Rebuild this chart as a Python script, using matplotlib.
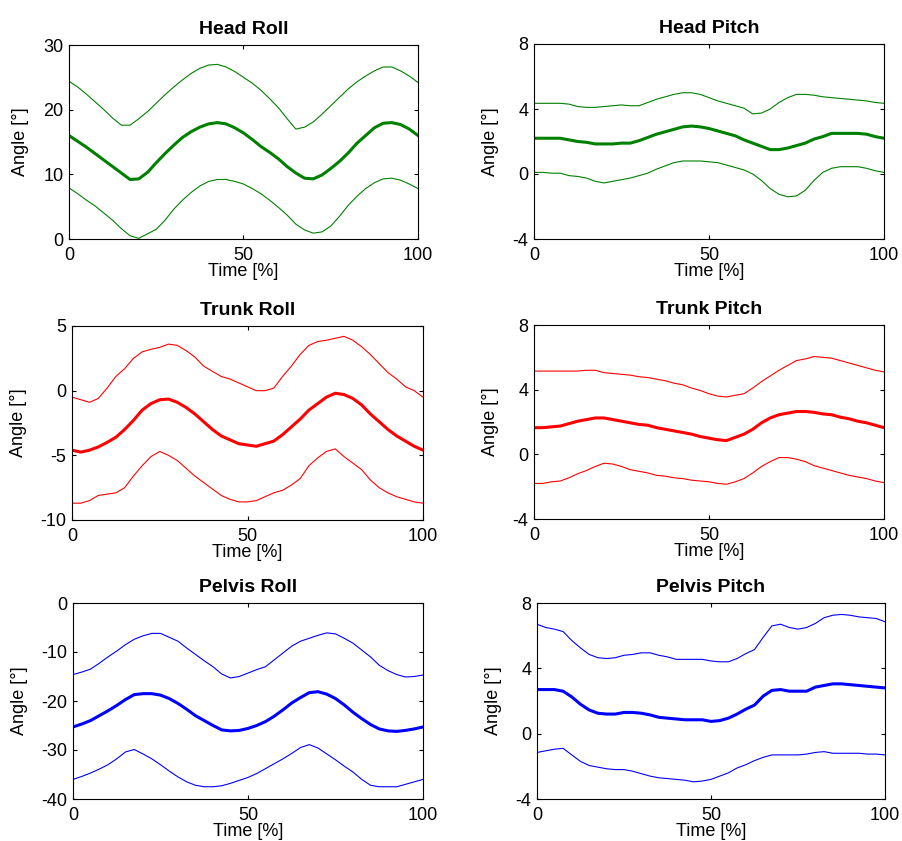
import matplotlib
matplotlib.use("Agg")
import matplotlib.pyplot as plt

plt.rcParams["font.family"] = ["Liberation Sans", "DejaVu Sans"]
plt.rcParams["axes.unicode_minus"] = False

OUTPUT_PATH = "out.png"

# gait cycle, every 2.5 %
time_pct = [0, 2.5, 5, 7.5, 10, 12.5, 15, 17.5, 20, 22.5,
            25, 27.5, 30, 32.5, 35, 37.5, 40, 42.5, 45, 47.5,
            50, 52.5, 55, 57.5, 60, 62.5, 65, 67.5, 70, 72.5,
            75, 77.5, 80, 82.5, 85, 87.5, 90, 92.5, 95, 97.5, 100]

# head roll [deg]
head_roll_mean = [16.0, 15.1, 14.2, 13.2, 12.2, 11.2, 10.2, 9.2, 9.3, 10.3,
                  11.8, 13.2, 14.5, 15.7, 16.6, 17.3, 17.8, 18.0, 17.8, 17.2,
                  16.4, 15.4, 14.3, 13.4, 12.4, 11.2, 10.2, 9.4, 9.3, 9.9,
                  10.9, 12.0, 13.3, 14.8, 16.0, 17.2, 17.9, 18.0, 17.7, 17.0, 16.0]
head_roll_upper = [24.4, 23.5, 22.4, 21.2, 20.0, 18.7, 17.6, 17.6, 18.6, 19.7,
                   21.0, 22.3, 23.5, 24.6, 25.6, 26.4, 26.9, 27.0, 26.6, 25.9,
                   25.0, 24.1, 23.0, 21.7, 20.3, 18.6, 17.0, 17.3, 18.1, 19.3,
                   20.6, 21.9, 23.2, 24.3, 25.2, 26.0, 26.6, 26.6, 26.0, 25.2, 24.2]
head_roll_lower = [7.9, 7.0, 6.0, 5.1, 4.0, 2.9, 1.6, 0.5, 0.1, 0.8,
                   1.5, 2.9, 4.6, 6.0, 7.2, 8.2, 8.9, 9.2, 9.2, 8.9,
                   8.5, 7.8, 7.0, 6.0, 4.9, 3.7, 2.3, 1.4, 0.9, 1.1,
                   2.0, 3.5, 5.2, 6.6, 7.8, 8.7, 9.3, 9.4, 9.1, 8.5, 7.8]

# head pitch [deg]
head_pitch_mean = [2.2, 2.2, 2.2, 2.2, 2.1, 2.0, 1.95, 1.85, 1.85, 1.85,
                   1.9, 1.9, 2.05, 2.25, 2.45, 2.6, 2.75, 2.9, 2.95, 2.9,
                   2.8, 2.65, 2.5, 2.35, 2.1, 1.9, 1.7, 1.5, 1.5, 1.6,
                   1.75, 1.9, 2.15, 2.3, 2.5, 2.5, 2.5, 2.5, 2.45, 2.3, 2.2]
head_pitch_upper = [4.35, 4.35, 4.35, 4.35, 4.3, 4.15, 4.1, 4.1, 4.15, 4.2,
                    4.25, 4.2, 4.2, 4.4, 4.6, 4.75, 4.9, 5.0, 5.0, 4.9,
                    4.7, 4.5, 4.35, 4.2, 4.05, 3.7, 3.75, 4.0, 4.4, 4.7,
                    4.9, 4.9, 4.85, 4.75, 4.7, 4.65, 4.6, 4.55, 4.5, 4.4, 4.35]
head_pitch_lower = [0.1, 0.1, 0.05, 0.05, -0.1, -0.15, -0.25, -0.45, -0.55, -0.45,
                    -0.35, -0.25, -0.1, 0.05, 0.3, 0.5, 0.7, 0.8, 0.8, 0.8,
                    0.75, 0.7, 0.55, 0.4, 0.25, 0.0, -0.4, -0.9, -1.25, -1.4,
                    -1.35, -1.0, -0.4, 0.1, 0.35, 0.45, 0.45, 0.45, 0.35, 0.2, 0.1]

# trunk roll [deg]
trunk_roll_mean = [-4.6, -4.75, -4.6, -4.35, -4.0, -3.6, -3.0, -2.3, -1.5, -1.0,
                   -0.7, -0.65, -0.9, -1.3, -1.8, -2.4, -3.0, -3.5, -3.8, -4.1,
                   -4.2, -4.3, -4.1, -3.9, -3.4, -2.8, -2.2, -1.5, -1.0, -0.5,
                   -0.2, -0.3, -0.6, -1.1, -1.8, -2.4, -3.0, -3.5, -3.9, -4.3, -4.6]
trunk_roll_upper = [-0.5, -0.7, -0.9, -0.6, 0.2, 1.1, 1.7, 2.5, 3.0, 3.2,
                    3.35, 3.6, 3.5, 3.1, 2.6, 1.9, 1.5, 1.1, 0.9, 0.6,
                    0.3, 0.0, 0.0, 0.2, 1.1, 1.9, 2.8, 3.5, 3.8, 3.9,
                    4.05, 4.2, 3.9, 3.4, 2.8, 2.1, 1.4, 0.9, 0.3, 0.0, -0.5]
trunk_roll_lower = [-8.7, -8.7, -8.5, -8.1, -8.0, -7.9, -7.5, -6.6, -5.8, -5.1,
                    -4.7, -5.0, -5.4, -6.0, -6.6, -7.1, -7.6, -8.1, -8.4, -8.6,
                    -8.6, -8.5, -8.2, -7.9, -7.7, -7.3, -6.8, -5.8, -5.2, -4.7,
                    -4.5, -5.1, -5.6, -6.1, -6.9, -7.5, -7.9, -8.2, -8.4, -8.6, -8.7]

# trunk pitch [deg]
trunk_pitch_mean = [1.65, 1.65, 1.7, 1.75, 1.9, 2.05, 2.15, 2.25, 2.25, 2.15,
                    2.05, 1.95, 1.85, 1.8, 1.65, 1.55, 1.45, 1.35, 1.25, 1.1,
                    1.0, 0.9, 0.85, 1.05, 1.25, 1.55, 1.95, 2.25, 2.45, 2.55,
                    2.65, 2.65, 2.6, 2.5, 2.45, 2.3, 2.2, 2.05, 1.95, 1.8, 1.65]
trunk_pitch_upper = [5.15, 5.15, 5.15, 5.15, 5.15, 5.15, 5.2, 5.2, 5.05, 5.0,
                     4.95, 4.9, 4.8, 4.75, 4.65, 4.55, 4.4, 4.3, 4.1, 3.95,
                     3.75, 3.6, 3.55, 3.65, 3.75, 4.1, 4.5, 4.85, 5.2, 5.5,
                     5.8, 5.9, 6.05, 6.0, 5.95, 5.8, 5.65, 5.5, 5.35, 5.2, 5.1]
trunk_pitch_lower = [-1.8, -1.8, -1.7, -1.65, -1.45, -1.2, -1.0, -0.75, -0.55, -0.6,
                     -0.75, -0.95, -1.05, -1.15, -1.3, -1.35, -1.45, -1.5, -1.6, -1.65,
                     -1.7, -1.8, -1.85, -1.7, -1.5, -1.15, -0.75, -0.45, -0.2, -0.2,
                     -0.3, -0.45, -0.7, -0.85, -1.0, -1.15, -1.3, -1.4, -1.5, -1.65, -1.75]

# pelvis roll [deg]
pelvis_roll_mean = [-25.3, -24.7, -24.0, -23.0, -22.0, -20.9, -19.7, -18.7, -18.5, -18.5,
                    -18.8, -19.5, -20.5, -21.7, -23.0, -24.0, -25.0, -25.9, -26.1, -26.0,
                    -25.6, -25.0, -24.2, -23.1, -21.8, -20.4, -19.3, -18.3, -18.1, -18.6,
                    -19.5, -20.8, -22.3, -23.6, -24.8, -25.7, -26.1, -26.2, -26.0, -25.7, -25.3]
pelvis_roll_upper = [-14.6, -14.1, -13.5, -12.3, -11.0, -9.8, -8.5, -7.4, -6.7, -6.2,
                     -6.2, -7.0, -7.8, -9.2, -10.5, -11.8, -13.0, -14.5, -15.3, -15.0,
                     -14.3, -13.6, -13.0, -11.6, -10.2, -8.8, -7.8, -7.2, -6.6, -6.1,
                     -6.3, -7.2, -8.2, -9.6, -11.0, -12.7, -13.8, -14.6, -15.1, -15.0, -14.7]
pelvis_roll_lower = [-36.0, -35.4, -34.7, -33.9, -33.0, -31.8, -30.4, -29.9, -30.8, -31.8,
                     -33.0, -34.3, -35.5, -36.5, -37.2, -37.5, -37.5, -37.3, -36.8, -36.2,
                     -35.6, -34.8, -33.8, -32.8, -31.8, -30.7, -29.5, -28.9, -29.6, -30.8,
                     -32.0, -33.3, -34.5, -36.0, -37.2, -37.5, -37.5, -37.5, -37.0, -36.5, -36.0]

# pelvis pitch [deg]
pelvis_pitch_mean = [2.7, 2.7, 2.7, 2.6, 2.25, 1.8, 1.45, 1.25, 1.2, 1.2,
                     1.3, 1.3, 1.25, 1.15, 1.0, 0.95, 0.9, 0.85, 0.85, 0.85,
                     0.75, 0.8, 0.95, 1.2, 1.5, 1.75, 2.3, 2.65, 2.7, 2.6,
                     2.6, 2.6, 2.85, 2.95, 3.05, 3.05, 3.0, 2.95, 2.9, 2.85, 2.8]
pelvis_pitch_upper = [6.7, 6.5, 6.4, 6.25, 5.7, 5.25, 4.85, 4.65, 4.6, 4.65,
                      4.8, 4.85, 4.95, 4.95, 4.8, 4.7, 4.55, 4.55, 4.55, 4.55,
                      4.45, 4.4, 4.4, 4.6, 4.9, 5.15, 5.9, 6.6, 6.7, 6.5,
                      6.4, 6.5, 6.75, 7.1, 7.25, 7.3, 7.25, 7.15, 7.1, 7.05, 6.85]
pelvis_pitch_lower = [-1.15, -1.05, -0.95, -0.9, -1.3, -1.7, -1.95, -2.05, -2.15, -2.2,
                      -2.2, -2.3, -2.45, -2.6, -2.7, -2.75, -2.8, -2.85, -2.95, -2.9,
                      -2.8, -2.6, -2.4, -2.1, -1.9, -1.65, -1.45, -1.3, -1.3, -1.3,
                      -1.3, -1.25, -1.15, -1.1, -1.2, -1.2, -1.2, -1.2, -1.25, -1.25, -1.3]

# (title, mean, upper, lower, colour, y ticks, rect in pixels: left, top, right, bottom)
PANELS = [
    ("Head Roll", head_roll_mean, head_roll_upper, head_roll_lower,
     "#008000", [0, 10, 20, 30], (69, 45, 418, 239)),
    ("Head Pitch", head_pitch_mean, head_pitch_upper, head_pitch_lower,
     "#008000", [-4, 0, 4, 8], (534, 44, 884, 239)),
    ("Trunk Roll", trunk_roll_mean, trunk_roll_upper, trunk_roll_lower,
     "#ff0000", [-10, -5, 0, 5], (72, 326, 423, 520)),
    ("Trunk Pitch", trunk_pitch_mean, trunk_pitch_upper, trunk_pitch_lower,
     "#ff0000", [-4, 0, 4, 8], (534, 325, 884, 519)),
    ("Pelvis Roll", pelvis_roll_mean, pelvis_roll_upper, pelvis_roll_lower,
     "#0000ff", [-40, -30, -20, -10, 0], (73, 603, 423, 799)),
    ("Pelvis Pitch", pelvis_pitch_mean, pelvis_pitch_upper, pelvis_pitch_lower,
     "#0000ff", [-4, 0, 4, 8], (537, 603, 885, 799)),
]

W, H = 902, 841


def draw_panel(fig, title, mean, upper, lower, color, yticks, rect):
    l, t, r, b = rect
    ax = fig.add_axes([l / W, 1 - b / H, (r - l) / W, (b - t) / H])

    ax.plot(time_pct, upper, color=color, lw=0.8)
    ax.plot(time_pct, lower, color=color, lw=0.8)
    ax.plot(time_pct, mean, color=color, lw=2.2)

    ax.set_xlim(0, 100)
    ax.set_ylim(yticks[0], yticks[-1])
    ax.set_xticks([0, 50, 100])
    ax.set_yticks(yticks)

    ax.tick_params(direction="in", top=True, right=True, length=3,
                   width=0.8, labelsize=13)
    ax.tick_params(axis="x", pad=6)
    ax.tick_params(axis="y", pad=4)
    for sp in ax.spines.values():
        sp.set_linewidth(0.8)

    ax.set_title(title, fontsize=14, fontweight="bold", pad=8)
    ax.set_xlabel("Time [%]", fontsize=13, labelpad=-1)
    ax.set_ylabel("Angle [°]", fontsize=13, labelpad=10)


def main():
    fig = plt.figure(figsize=(W / 100, H / 100), dpi=100)
    for title, mean, upper, lower, color, yticks, rect in PANELS:
        draw_panel(fig, title, mean, upper, lower, color, yticks, rect)
    fig.savefig(OUTPUT_PATH, dpi=100)
    plt.close(fig)


if __name__ == "__main__":
    main()
